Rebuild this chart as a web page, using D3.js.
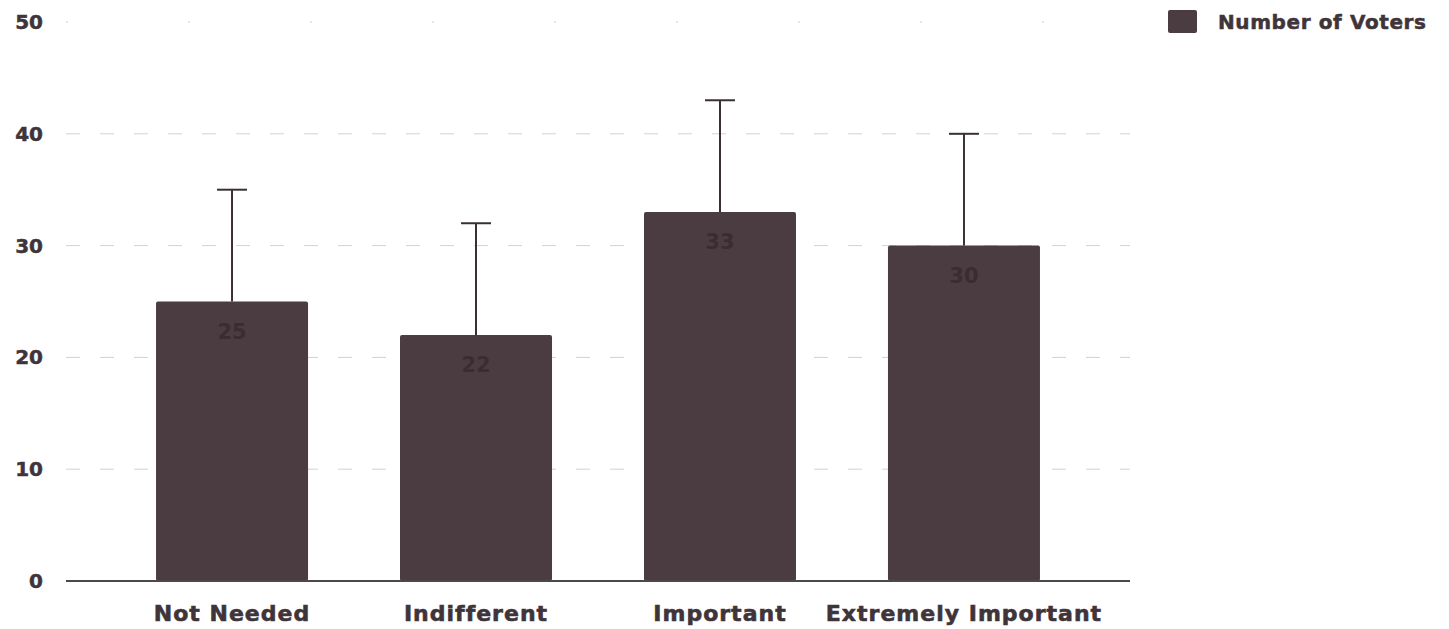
<!DOCTYPE html>
<html>
<head>
<meta charset="utf-8">
<script src="https://cdn.jsdelivr.net/npm/d3@7"></script>
<style>
  body { margin: 0; background: #fff; }
  text { font-family: "DejaVu Sans", sans-serif; font-weight: bold; }
</style>
</head>
<body>
<div id="chart"></div>
<script>
const width = 1449;
const height = 629;

// data
const categories = ["Not Needed", "Indifferent", "Important", "Extremely Important"];
const voters = [25, 22, 33, 30];
const errors = [10, 10, 10, 10];
const yTicks = [0, 10, 20, 30, 40, 50];
const seriesName = "Number of Voters";

const barColor = "#4b3c41";
const textColor = "#3f3439";

const svg = d3.select("#chart")
    .append("svg")
    .attr("width", width)
    .attr("height", height);

const x = d3.scaleBand()
    .domain(categories)
    .range([66, 1130])
    .paddingInner(0.377)
    .paddingOuter(0.369);

const y = d3.scaleLinear()
    .domain([0, 50])
    .range([581, 22]);

// faint dashed grid lines
svg.append("g")
    .selectAll("line")
    .data(yTicks.filter(d => d > 0))
    .enter()
    .append("line")
    .attr("x1", 66)
    .attr("x2", 1130)
    .attr("y1", d => y(d))
    .attr("y2", d => y(d))
    .attr("stroke", "#d2d2d2")
    .attr("stroke-width", 1)
    .attr("stroke-dasharray", d => d === 50 ? "2,120" : "14,20");

// y tick labels
svg.append("g")
    .selectAll("text")
    .data(yTicks)
    .enter()
    .append("text")
    .attr("x", 43)
    .attr("y", d => y(d))
    .attr("dy", "0.35em")
    .attr("text-anchor", "end")
    .attr("font-size", 20)
    .attr("fill", textColor)
    .attr("stroke", textColor)
    .attr("stroke-width", 0.5)
    .text(d => d);

// bars
const data = categories.map((c, i) => ({ cat: c, value: voters[i], err: errors[i] }));

svg.append("g")
    .selectAll("rect")
    .data(data)
    .enter()
    .append("rect")
    .attr("x", d => x(d.cat))
    .attr("y", d => y(d.value))
    .attr("width", x.bandwidth())
    .attr("height", d => y(0) - y(d.value))
    .attr("rx", 2)
    .attr("fill", barColor);

// error bars (upper only)
const err = svg.append("g")
    .attr("stroke", "#3a3034")
    .attr("stroke-width", 2);

err.selectAll("line.stem")
    .data(data)
    .enter()
    .append("line")
    .attr("class", "stem")
    .attr("x1", d => x(d.cat) + x.bandwidth() / 2)
    .attr("x2", d => x(d.cat) + x.bandwidth() / 2)
    .attr("y1", d => y(d.value))
    .attr("y2", d => y(d.value + d.err));

err.selectAll("line.cap")
    .data(data)
    .enter()
    .append("line")
    .attr("class", "cap")
    .attr("x1", d => x(d.cat) + x.bandwidth() / 2 - 15)
    .attr("x2", d => x(d.cat) + x.bandwidth() / 2 + 15)
    .attr("y1", d => y(d.value + d.err))
    .attr("y2", d => y(d.value + d.err));

// value labels inside bars (barely visible in the reference)
svg.append("g")
    .selectAll("text")
    .data(data)
    .enter()
    .append("text")
    .attr("x", d => x(d.cat) + x.bandwidth() / 2)
    .attr("y", d => y(d.value) + 37)
    .attr("text-anchor", "middle")
    .attr("font-size", 21)
    .attr("fill", "#3a2d32")
    .text(d => d.value);

// baseline
svg.append("line")
    .attr("x1", 66)
    .attr("x2", 1130)
    .attr("y1", y(0))
    .attr("y2", y(0))
    .attr("stroke", "#4a4a4a")
    .attr("stroke-width", 2);

// category labels
svg.append("g")
    .selectAll("text")
    .data(categories)
    .enter()
    .append("text")
    .attr("x", d => x(d) + x.bandwidth() / 2)
    .attr("y", 621)
    .attr("text-anchor", "middle")
    .attr("font-size", 22)
    .attr("letter-spacing", 1)
    .attr("fill", textColor)
    .attr("stroke", textColor)
    .attr("stroke-width", 0.6)
    .text(d => d);

// legend
const legend = svg.append("g")
    .attr("transform", "translate(1168,10)");

legend.append("rect")
    .attr("width", 29)
    .attr("height", 23)
    .attr("rx", 2)
    .attr("fill", barColor);

legend.append("text")
    .attr("x", 50)
    .attr("y", 12)
    .attr("dy", "0.35em")
    .attr("font-size", 20)
    .attr("letter-spacing", 0.6)
    .attr("fill", textColor)
    .attr("stroke", textColor)
    .attr("stroke-width", 0.5)
    .text(seriesName);
</script>
</body>
</html>
